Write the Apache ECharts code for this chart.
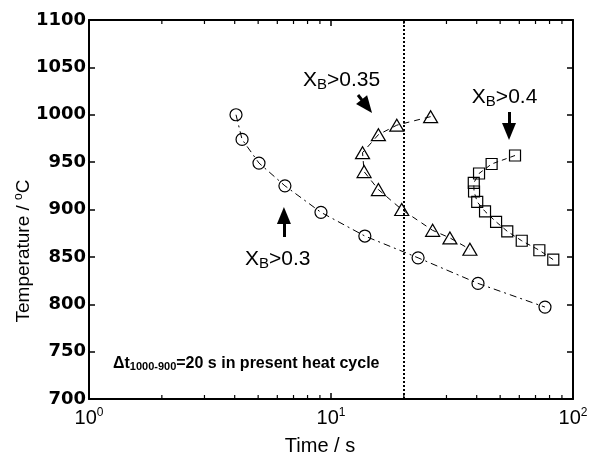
<!DOCTYPE html>
<html><head><meta charset="utf-8">
<script src="https://cdn.jsdelivr.net/npm/echarts@6/dist/echarts.min.js"></script>
<style>html,body{margin:0;padding:0;background:#fff}#c{width:597px;height:459px}</style>
</head><body><div id="c"></div>
<script>
// ---- data ----
const circleTime = [4.05, 4.29, 5.04, 6.45, 9.09, 13.8, 22.9, 40.5, 76.6];
const circleTemp = [1000, 974, 949, 925, 897, 872, 849, 822, 797];
const triTime = [25.8, 18.7, 15.7, 13.5, 13.7, 15.7, 19.6, 26.3, 31.0, 37.5];
const triTemp = [998, 989, 979, 960, 940, 921, 900, 878, 870, 858];
const sqTime = [57.6, 46.1, 40.9, 38.9, 39.0, 40.2, 43.3, 48.1, 53.5, 61.4, 72.6, 82.9];
const sqTemp = [957, 948, 938, 928, 919, 908, 898, 887, 877, 867, 857, 847];
const yTicks = [700, 750, 800, 850, 900, 950, 1000, 1050, 1100];
const xTickExp = [0, 1, 2];
const xMinorTicks = [2, 3, 4, 5, 6, 7, 8, 9, 20, 30, 40, 50, 60, 70, 80, 90];
const refTime = 20;
// annotation anchors (data coords)
const labels = [
  {txt: '0.35', at: [7.66, 1036.7]},
  {txt: '0.4', at: [38.2, 1018.7]},
  {txt: '0.3', at: [4.41, 847.8]}
];
const arrows = [
  [[12.93, 1020.8], [14.06, 1008.9]],
  [[54.4, 1002.9], [54.4, 982.3]],
  [[6.39, 871], [6.39, 893.7]]
];
const noteAt = [1.256, 737];

function pair(xs, ys){ return xs.map((x,i)=>[x, ys[i]]); }

const chart = echarts.init(document.getElementById('c'));
const FONT = 'Liberation Sans, Arial, sans-serif';
const yMin = yTicks[0], yMax = yTicks[yTicks.length - 1];
const axisCommon = {
  axisLine: {show: true, onZero: false, lineStyle: {color: '#000', width: 2}},
  splitLine: {show: false}
};
const mk = {color: 'rgba(255,255,255,0)', borderColor: '#000', borderWidth: 1.2};

chart.setOption({
  animation: false,
  textStyle: {fontFamily: FONT},
  grid: {left: 89, right: 24, top: 20, bottom: 60},
  xAxis: [
    Object.assign({type: 'log', logBase: 10, min: 1, max: 100, position: 'bottom',
      axisTick: {show: true, inside: true, length: 6, lineStyle: {color: '#000', width: 1.5}},
      minorTick: {show: false},
      axisLabel: {margin: 8, color: '#000',
        formatter: v => '{b|10}{s|' + xTickExp[Math.round(Math.log10(v))] + '}',
        rich: {b: {fontSize: 20, fontFamily: FONT, lineHeight: 22},
               s: {fontSize: 12, fontFamily: FONT, verticalAlign: 'top', lineHeight: 8}}}
    }, axisCommon),
    Object.assign({type: 'log', logBase: 10, min: 1, max: 100, position: 'top',
      axisTick: {show: true, inside: true, length: 6, lineStyle: {color: '#000', width: 1.5}},
      minorTick: {show: false},
      axisLabel: {show: false}
    }, axisCommon)
  ],
  yAxis: [
    Object.assign({type: 'value', min: yMin, max: yMax, interval: 50, position: 'left',
      axisTick: {show: true, inside: true, length: 6, lineStyle: {color: '#000', width: 1.5}},
      axisLabel: {margin: 3, color: '#000', fontSize: 18, fontWeight: 'bold', fontFamily: 'DejaVu Sans',
        formatter: v => String(v)}
    }, axisCommon),
    Object.assign({type: 'value', min: yMin, max: yMax, interval: 50, position: 'right',
      axisTick: {show: true, inside: true, length: 6, lineStyle: {color: '#000', width: 1.5}},
      axisLabel: {show: false}
    }, axisCommon)
  ],
  series: [
    {type: 'custom', silent: true, data: xMinorTicks.map(v => [v]), encode: {x: 0},
     renderItem: (params, api) => {
       const v = api.value(0);
       const b = api.coord([v, yMin]);
       const t = api.coord([v, yMax]);
       const st = {stroke: '#000', lineWidth: 1.2};
       return {type: 'group', children: [
         {type: 'line', shape: {x1: b[0], y1: b[1], x2: b[0], y2: b[1] - 4}, style: st},
         {type: 'line', shape: {x1: t[0], y1: t[1], x2: t[0], y2: t[1] + 4}, style: st}
       ]};
     }},
    {type: 'line', data: pair(circleTime, circleTemp), symbol: 'circle', symbolSize: 12,
     itemStyle: mk, lineStyle: {color: '#000', width: 1, type: [7, 4, 2, 4]},
     markLine: {silent: true, symbol: 'none', label: {show: false},
       lineStyle: {color: '#000', width: 2, type: [2, 2]}, data: [{xAxis: refTime}]}},
    {type: 'line', data: pair(triTime, triTemp), symbol: 'triangle', symbolSize: [14, 12],
     itemStyle: mk, lineStyle: {color: '#000', width: 1, type: [6, 5]}},
    {type: 'line', data: pair(sqTime, sqTemp), symbol: 'rect', symbolSize: 11,
     itemStyle: mk, lineStyle: {color: '#000', width: 1, type: [5, 4]}},
    {type: 'line', data: [], markLine: {silent: true, symbol: ['none', 'triangle'], symbolSize: [14, 17],
       label: {show: false}, lineStyle: {color: '#000', width: 3, type: 'solid'},
       data: arrows.map(a => [{coord: a[0]}, {coord: a[1]}])}}
  ]
});

const g = [];
labels.forEach(l => {
  const p = chart.convertToPixel({gridIndex: 0}, l.at);
  g.push({type: 'text', x: p[0], y: p[1], style: {
    text: '{x|X}{sub|B}{x|>' + l.txt + '}', align: 'left', verticalAlign: 'middle',
    rich: {x: {fontSize: 21, fontFamily: FONT, lineHeight: 24, fill: '#000'},
           sub: {fontSize: 15, fontFamily: FONT, lineHeight: 8, verticalAlign: 'bottom', fill: '#000'}}}});
});
const dtP = chart.convertToPixel({gridIndex: 0}, noteAt);
g.push({type: 'text', x: dtP[0], y: dtP[1], style: {
  text: '{m|\u0394t}{s|1000-900}{m|=20 s in present heat cycle}', align: 'left', verticalAlign: 'middle',
  rich: {m: {fontSize: 16, fontWeight: 'bold', fontFamily: FONT, lineHeight: 18, fill: '#000'},
         s: {fontSize: 11, fontWeight: 'bold', fontFamily: FONT, lineHeight: 8, verticalAlign: 'bottom', fill: '#000'}}}});
g.push({type: 'text', x: 320, y: 446, style: {text: 'Time / s', fontSize: 20, fontFamily: FONT,
  align: 'center', verticalAlign: 'middle', fill: '#000'}});
g.push({type: 'text', x: 24, y: 251, rotation: Math.PI / 2, style: {
  text: '{m|Temperature / }{s|o}{m|C}', align: 'center', verticalAlign: 'middle',
  rich: {m: {fontSize: 19, fontFamily: FONT, lineHeight: 22, fill: '#000'},
         s: {fontSize: 12, fontFamily: FONT, lineHeight: 10, verticalAlign: 'top', fill: '#000'}}}});
chart.setOption({graphic: g});
</script></body></html>
